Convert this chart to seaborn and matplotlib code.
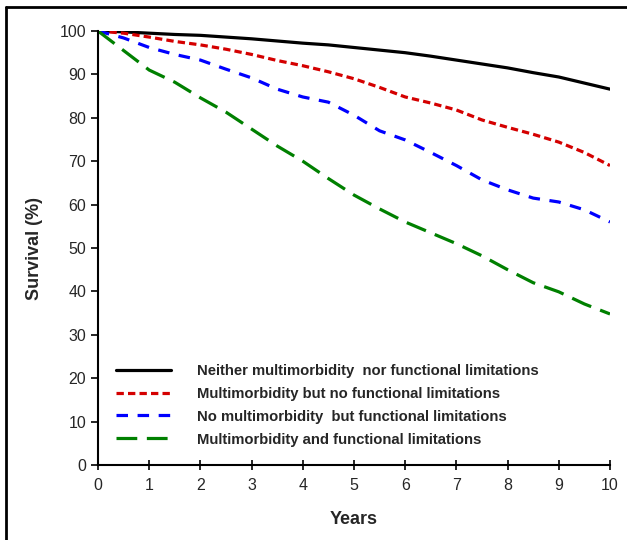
import pandas as pd
import seaborn as sns
from matplotlib import pyplot as plt
from matplotlib.lines import Line2D

sns.set_style("ticks")
plt.rcParams['font.family'] = ['Liberation Sans', 'DejaVu Sans']

# Years of follow-up
years = [0, 0.5, 1, 1.5, 2, 2.5, 3, 3.5, 4, 4.5, 5,
         5.5, 6, 6.5, 7, 7.5, 8, 8.5, 9, 9.5, 10]

# Survival (%)
neither = [100, 99.8, 99.5, 99.2, 99.0, 98.6, 98.2, 97.7, 97.2, 96.8, 96.2,
           95.6, 95.0, 94.2, 93.3, 92.4, 91.5, 90.4, 89.4, 88.0, 86.6]
multi_only = [100, 99.5, 98.6, 97.6, 96.8, 95.8, 94.6, 93.2, 92.0, 90.6, 89.0,
              87.0, 84.8, 83.4, 81.8, 79.5, 77.8, 76.2, 74.4, 72.0, 69.0]
func_only = [100, 98.4, 96.2, 94.6, 93.3, 91.2, 89.2, 86.6, 84.8, 83.6, 80.6,
             77.0, 74.9, 72.0, 69.0, 65.7, 63.4, 61.5, 60.6, 58.8, 56.0]
both = [100, 95.5, 91.0, 88.2, 84.6, 81.3, 77.4, 73.5, 70.0, 66.0, 62.2,
        59.0, 56.0, 53.5, 51.0, 48.2, 45.0, 42.0, 39.9, 37.1, 34.8]

groups = ['Neither multimorbidity  nor functional limitations',
          'Multimorbidity but no functional limitations',
          'No multimorbidity  but functional limitations',
          'Multimorbidity and functional limitations']
series = [neither, multi_only, func_only, both]
colors = ['black', '#d40000', '#0000ff', '#008000']
dashes = ['', (2.3, 1.3), (3.6, 3.0), (6.5, 3.0)]

df = pd.concat([pd.DataFrame({'Years': years, 'Survival': s, 'group': g})
                for g, s in zip(groups, series)], ignore_index=True)

fig = plt.figure(figsize=(6.27, 5.4), dpi=100)
ax = fig.add_axes([98 / 627, 1 - 465 / 540, 512 / 627, 434 / 540])

sns.lineplot(data=df, x='Years', y='Survival', hue='group', style='group',
             palette=dict(zip(groups, colors)), dashes=dict(zip(groups, dashes)),
             linewidth=2.3, ax=ax)

ax.set_xlim(0, 10)
ax.set_ylim(0, 100)
ax.set_xticks(range(0, 11))
ax.set_yticks(range(0, 101, 10))
ax.tick_params(axis='both', labelsize=11.5, color='black', width=1.2)
ax.tick_params(axis='x', direction='inout', length=7, pad=6)
ax.tick_params(axis='y', direction='out', length=5)
for side in ['top', 'right']:
    ax.spines[side].set_visible(False)
for side in ['left', 'bottom']:
    ax.spines[side].set_linewidth(1.5)
    ax.spines[side].set_color('black')

ax.set_xlabel('Years', fontsize=13, fontweight='bold', labelpad=13)
ax.set_ylabel('Survival (%)', fontsize=13, fontweight='bold', labelpad=12)

leg = ax.legend(loc='upper left', bbox_to_anchor=(0.01, 0.264), frameon=False,
                fontsize=10.7, handlelength=3.7, handletextpad=1.7,
                labelspacing=0.6)
for t in leg.get_texts():
    t.set_fontweight('bold')

# frame round the figure (left and top edges visible)
fig.add_artist(Line2D([6 / 627, 6 / 627], [0, 1 - 7 / 540], color='black', lw=2))
fig.add_artist(Line2D([6 / 627, 1], [1 - 7 / 540, 1 - 7 / 540], color='black', lw=2))

fig.savefig('out.png', dpi=100)
